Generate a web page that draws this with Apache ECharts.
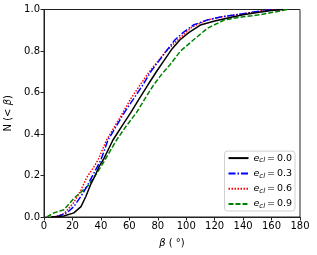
<!DOCTYPE html>
<html><head><meta charset="utf-8">
<script src="https://cdn.jsdelivr.net/npm/echarts@6/dist/echarts.min.js"></script>
<style>html,body{margin:0;padding:0;background:#fff}#c{width:317px;height:255px}</style>
</head><body><div id="c"></div>
<script>
const xTicks = [0,20,40,60,80,100,120,140,160,180];
const yTicks = [0,0.2,0.4,0.6,0.8,1.0];
const seriesNames = ['0.0','0.3','0.6','0.9'];

const beta00 = [5,14,21,26,29.5,33,36,38.5,42,48.5,55,61,67,73,79,84,90,95.5,102,110,120,130,140,150,160,168];
const n00    = [0,0.005,0.02,0.05,0.1,0.16,0.2,0.24,0.28,0.371,0.44,0.503,0.57,0.636,0.70,0.75,0.81,0.853,0.89,0.925,0.945,0.96,0.975,0.985,0.995,1.0];

const beta03 = [9,16,21,26,30,36.5,40,45,51,56.5,62,69.5,75,80,86,92,98,105,115,125,135,145,155,165];
const n03    = [0,0.02,0.05,0.1,0.145,0.23,0.275,0.371,0.44,0.503,0.56,0.636,0.70,0.745,0.80,0.853,0.89,0.925,0.95,0.965,0.975,0.985,0.995,1.0];

const beta06 = [7,14,21,26,30,34.5,38,44,50,55.5,61,67.5,74,80,86,94,104,115,125,135,145,155,165];
const n06    = [0,0.015,0.07,0.13,0.19,0.235,0.275,0.371,0.44,0.503,0.57,0.636,0.70,0.75,0.80,0.853,0.915,0.95,0.965,0.975,0.985,0.995,1.0];

const beta09 = [2,7,14,21,26,31.5,37,42,51,58,65,71,77,83,88.5,96,105,115,127,140,150,160,171];
const n09    = [0,0.02,0.035,0.09,0.12,0.155,0.21,0.265,0.371,0.44,0.503,0.57,0.636,0.69,0.733,0.80,0.853,0.91,0.95,0.965,0.973,0.985,1.0];

const pairs = (xs, ys) => xs.map((x, i) => [x, ys[i]]);
const FONT = 'DejaVu Sans';

const chart = echarts.init(document.getElementById('c'), null, {renderer: 'canvas'});
const styles = [
  {color: '#000000', type: 'solid'},
  {color: '#0000ff', type: [7, 2, 1.5, 2]},
  {color: '#ff0000', type: [1.5, 1.5]},
  {color: '#008000', type: [5, 2]}
];
const data = [pairs(beta00, n00), pairs(beta03, n03), pairs(beta06, n06), pairs(beta09, n09)];

chart.setOption({
  animation: false,
  backgroundColor: '#fff',
  grid: {left: 44, right: 17, top: 9.5, bottom: 38, containLabel: false, outerBoundsMode: 'none',
         show: true, borderColor: '#222', borderWidth: 1, backgroundColor: 'transparent'},
  xAxis: {
    type: 'value', min: 0, max: 180, interval: 20,
    axisLine: {show: true, lineStyle: {color: '#222', width: 1}},
    axisTick: {show: true, inside: false, length: 3.5, lineStyle: {color: '#222'}},
    axisLabel: {color: '#000', fontFamily: FONT, fontSize: 10, margin: 4},
    splitLine: {show: false},
    name: '{b|β} ( °)', nameLocation: 'middle', nameGap: 21,
    nameTextStyle: {color: '#000', fontFamily: FONT, fontSize: 10, rich: {b: {fontStyle: 'italic', fontFamily: FONT, fontSize: 10, color: '#000'}}}
  },
  yAxis: {
    type: 'value', min: 0, max: 1, interval: 0.2,
    axisLine: {show: true, lineStyle: {color: '#222', width: 1}},
    axisTick: {show: true, inside: false, length: 3.5, lineStyle: {color: '#222'}},
    axisLabel: {color: '#000', fontFamily: FONT, fontSize: 10, margin: 4, formatter: v => v.toFixed(1)},
    splitLine: {show: false},
    name: 'N (< {b|β})', nameLocation: 'middle', nameGap: 29,
    nameTextStyle: {color: '#000', fontFamily: FONT, fontSize: 10, rich: {b: {fontStyle: 'italic', fontFamily: FONT, fontSize: 10, color: '#000'}}}
  },
  legend: {
    right: 22, bottom: 44, orient: 'vertical',
    itemWidth: 20, itemHeight: 8, itemGap: 3.3,
    padding: [1, 3, 1, 3],
    borderColor: '#d0d0d0', borderWidth: 1, borderRadius: 3, backgroundColor: '#fff',
    data: seriesNames,
    itemStyle: {color: 'transparent', borderWidth: 0, opacity: 0},
    formatter: n => '{e|e}{s|cl}{t|\u2009=\u2009' + n + '}',
    textStyle: {
      fontFamily: FONT, fontSize: 9.5, color: '#000', lineHeight: 11,
      rich: {
        e: {fontStyle: 'italic', fontFamily: FONT, fontSize: 9.5, color: '#000', lineHeight: 11},
        s: {fontStyle: 'italic', fontFamily: FONT, fontSize: 7, color: '#000', lineHeight: 11, padding: [5, 0, 0, 0]},
        t: {fontFamily: FONT, fontSize: 9.5, color: '#000', lineHeight: 11}
      }
    }
  },
  series: seriesNames.map((n, i) => ({
    name: n, type: 'line', data: data[i], symbol: 'none', showSymbol: false,
    lineStyle: {color: styles[i].color, type: styles[i].type, width: 1.5},
    itemStyle: {color: styles[i].color},
    z: 10 - i
  }))
});
</script></body></html>
